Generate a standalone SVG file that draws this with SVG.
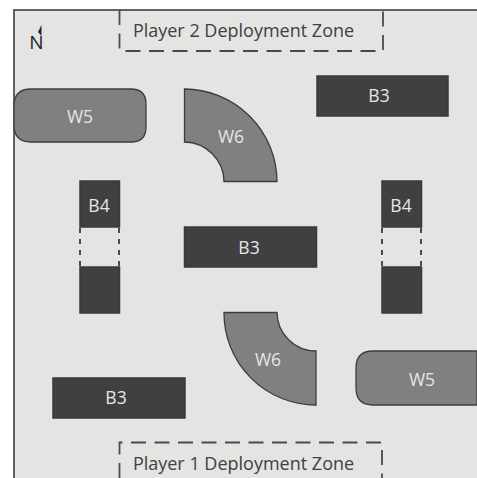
<svg xmlns="http://www.w3.org/2000/svg" width="477" height="478" viewBox="0 0 477 478">
<style>
text{font-family:"Open Sans","Noto Sans","Liberation Sans",sans-serif;font-size:17.500px;text-anchor:middle}
.l{fill:#e6e6e6}
.d{fill:#404040;stroke:#383838;stroke-width:1.5}
.w{fill:#808080;stroke:#3c3c3c;stroke-width:1.3}
.z{fill:none;stroke:#4a4a4a;stroke-width:1.8;stroke-dasharray:15 8.5}
.g{fill:none;stroke:#4a4a4a;stroke-width:2;stroke-dasharray:5 6}
.t{fill:#404040}
</style>
<rect width="477" height="478" fill="#fff"/>
<g id="board"><rect x="14" y="10" width="463" height="468" fill="#e4e4e3"/><path d="M14 478V10H477" fill="none" stroke="#333" stroke-width="1.5"/></g>
<g id="north"><text x="36.500" y="49" style="font-size:19px;fill:#222">N</text><path d="M41.500 25V36L38 32Z" fill="#222"/></g>
<g id="zone2"><path class="z" d="M119.500 10V51H383V10"/><text class="t" x="243.500" y="37" style="font-size:18px">Player 2 Deployment Zone</text></g>
<g id="zone1"><path class="z" d="M119.500 478V442.500H382V478"/><text class="t" x="243.500" y="470" style="font-size:18px">Player 1 Deployment Zone</text></g>
<g id="w5-left"><path class="w" d="M14 106Q14 89 31 89H131Q146 89 146 104V127Q146 142 131 142H31Q14 142 14 125Z"/><text class="l" x="80" y="123">W5</text></g>
<g id="w5-right"><path class="w" d="M477 351H373Q356 351 356 368V388Q356 405 373 405H477Z"/><text class="l" x="422" y="386">W5</text></g>
<g id="w6-top"><path class="w" d="M184.500 89A93 93 0 0 1 277 181.500H224A40 40 0 0 0 184.500 142Z"/><text class="l" x="231" y="143">W6</text></g>
<g id="w6-bottom"><path class="w" d="M224 312.500H277A39 39 0 0 0 316 351V405A92 92 0 0 1 224 312.500Z"/><text class="l" x="268" y="366">W6</text></g>
<g id="b3-top"><rect class="d" x="317" y="76" width="131" height="40"/><text class="l" x="379" y="102">B3</text></g>
<g id="b3-mid"><rect class="d" x="184.500" y="227" width="132" height="40"/><text class="l" x="249" y="254">B3</text></g>
<g id="b3-bottom"><rect class="d" x="53" y="378" width="132" height="40"/><text class="l" x="116" y="404">B3</text></g>
<g id="b4-left"><path class="g" d="M80 228V266M119 228V266"/><rect class="d" x="80" y="181" width="39.500" height="46"/><rect class="d" x="80" y="267" width="39.500" height="46"/><text class="l" x="99" y="212">B4</text></g>
<g id="b4-right"><path class="g" d="M382 228V266M421 228V266"/><rect class="d" x="382" y="181" width="39.500" height="46"/><rect class="d" x="382" y="267" width="39.500" height="46"/><text class="l" x="401" y="212">B4</text></g>
</svg>
